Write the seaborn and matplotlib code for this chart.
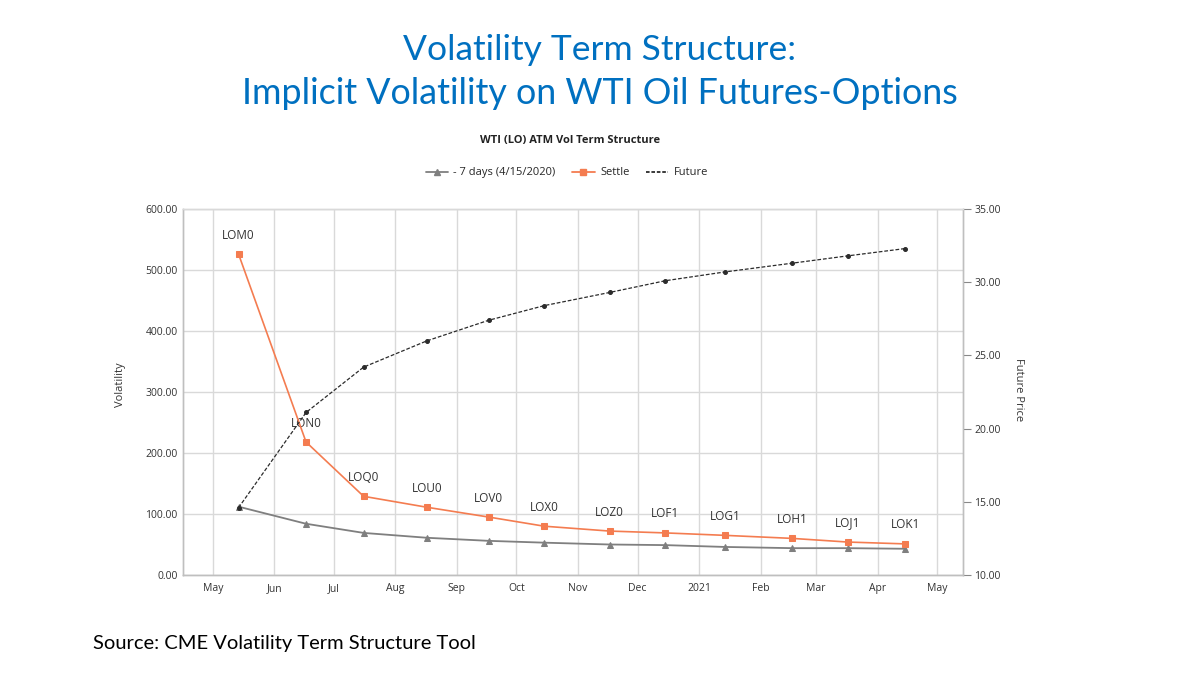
import matplotlib
matplotlib.use("Agg")
import matplotlib.pyplot as plt
import matplotlib.dates as mdates
from matplotlib.lines import Line2D
import seaborn as sns
import pandas as pd
import numpy as np

# ---- data ----
contracts = ["LOM0", "LON0", "LOQ0", "LOU0", "LOV0", "LOX0",
             "LOZ0", "LOF1", "LOG1", "LOH1", "LOJ1", "LOK1"]
expiry = ["2020-05-14", "2020-06-17", "2020-07-16", "2020-08-17", "2020-09-17", "2020-10-15",
          "2020-11-17", "2020-12-15", "2021-01-14", "2021-02-17", "2021-03-17", "2021-04-15"]
settle = [526, 218, 129, 111, 95, 80, 72, 69, 65, 60, 54, 51]
prev7 = [112, 84, 69, 61, 56, 53, 50, 49, 46, 44, 44, 43]
future = [14.6, 21.1, 24.2, 26.0, 27.4, 28.4, 29.3, 30.1, 30.7, 31.3, 31.8, 32.3]
vol_ticks = [0, 100, 200, 300, 400, 500, 600]
price_ticks = [10, 15, 20, 25, 30, 35]

df = pd.DataFrame({"date": pd.to_datetime(expiry), "contract": contracts,
                   "settle": settle, "prev7": prev7, "future": future})

sns.set_style("white")
plt.rcParams["font.family"] = ["Open Sans", "DejaVu Sans"]

fig = plt.figure(figsize=(12, 6.75), dpi=100)
L, R, T, B = 183, 963, 209, 575
ax = fig.add_axes([L / 1200, 1 - B / 675, (R - L) / 1200, (B - T) / 675])
ax2 = ax.twinx()

c_orange = "#F47C50"
c_gray = "#7F7F7F"
c_fut = "#2B2B2B"

sns.lineplot(data=df, x="date", y="prev7", ax=ax, color=c_gray, lw=1.3,
             marker="^", markersize=4.5, markeredgecolor=c_gray, zorder=3)
sns.lineplot(data=df, x="date", y="settle", ax=ax, color=c_orange, lw=1.2,
             marker="s", markersize=5, markeredgecolor=c_orange, zorder=4)
sns.lineplot(data=df, x="date", y="future", ax=ax2, color=c_fut, lw=0.9,
             linestyle=(0, (3, 1.5)), marker="o", markersize=2.8,
             markeredgecolor=c_fut, zorder=5)

for d, v, lab in zip(df["date"], df["settle"], df["contract"]):
    ax.annotate(lab, (d, v), xytext=(0, 9), textcoords="offset points",
                ha="center", va="bottom", fontsize=8.5, color="#333333")

ax.set_ylim(0, 600)
ax2.set_ylim(10, 35)
ax.set_xlim(pd.Timestamp("2020-04-16"), pd.Timestamp("2021-05-14"))
ax.set_yticks(vol_ticks)
ax.set_yticklabels([f"{v:.2f}" for v in vol_ticks], fontsize=7.5, color="#333333")
ax2.set_yticks(price_ticks)
ax2.set_yticklabels([f"{v:.2f}" for v in price_ticks], fontsize=7.5, color="#333333")

ax.xaxis.set_major_locator(mdates.MonthLocator())
def fmt(x, pos=None):
    d = mdates.num2date(x)
    return str(d.year) if d.month == 1 else d.strftime("%b")
ax.xaxis.set_major_formatter(plt.FuncFormatter(fmt))
for t in ax.get_xticklabels():
    t.set_fontsize(7.5)
    t.set_color("#333333")

ax.grid(True, color="#D9D9D9", lw=1.0)
ax2.grid(False)
ax.tick_params(axis="x", length=0, pad=6)
ax.tick_params(axis="y", length=0, pad=4)
ax2.tick_params(axis="y", length=6, width=0.8, color="#888888", pad=2, direction="out")

for a in (ax, ax2):
    for s in a.spines.values():
        s.set_color("#BFBFBF")
        s.set_linewidth(1.0)
ax.spines["top"].set_color("#D9D9D9")
ax2.spines["top"].set_color("#D9D9D9")

ax.set_xlabel("")
ax.set_ylabel("")
ax2.set_ylabel("")
fig.text(120 / 1200, 1 - 385 / 675, "Volatility", rotation=90, ha="center", va="center",
         fontsize=8, color="#333333")
fig.text(1018 / 1200, 1 - 390 / 675, "Future Price", rotation=270, ha="center", va="center",
         fontsize=8, color="#333333")

# chart title and legend
fig.text(570 / 1200, 1 - 141 / 675, "WTI (LO) ATM Vol Term Structure", ha="center",
         va="center", fontsize=8, fontweight="bold", color="#222222")
handles = [
    Line2D([], [], color=c_gray, marker="^", markersize=4, lw=1.3),
    Line2D([], [], color=c_orange, marker="s", markersize=4, lw=1.3),
    Line2D([], [], color=c_fut, lw=1.3, linestyle=(0, (2, 1))),
]
labels = ["- 7 days (4/15/2020)", "Settle", "Future"]
fig.legend(handles, labels, loc="center", bbox_to_anchor=(567 / 1200, 1 - 173 / 675),
           ncol=3, frameon=False, fontsize=8, handlelength=2.0, columnspacing=1.5,
           handletextpad=0.5)

# slide title
fig.text(600 / 1200, 1 - 50 / 675, "Volatility Term Structure:", ha="center", va="center",
         fontsize=25.5, color="#0070C0", family=["Lato", "DejaVu Sans"])
fig.text(600 / 1200, 1 - 93 / 675, "Implicit Volatility on WTI Oil Futures-Options",
         ha="center", va="center", fontsize=25.8, color="#0070C0", family=["Lato", "DejaVu Sans"])
fig.text(93 / 1200, 1 - 643 / 675, "Source: CME Volatility Term Structure Tool", ha="left",
         va="center", fontsize=14.5, color="#000000", family=["Lato", "DejaVu Sans"])

fig.savefig("out.png", dpi=100)
